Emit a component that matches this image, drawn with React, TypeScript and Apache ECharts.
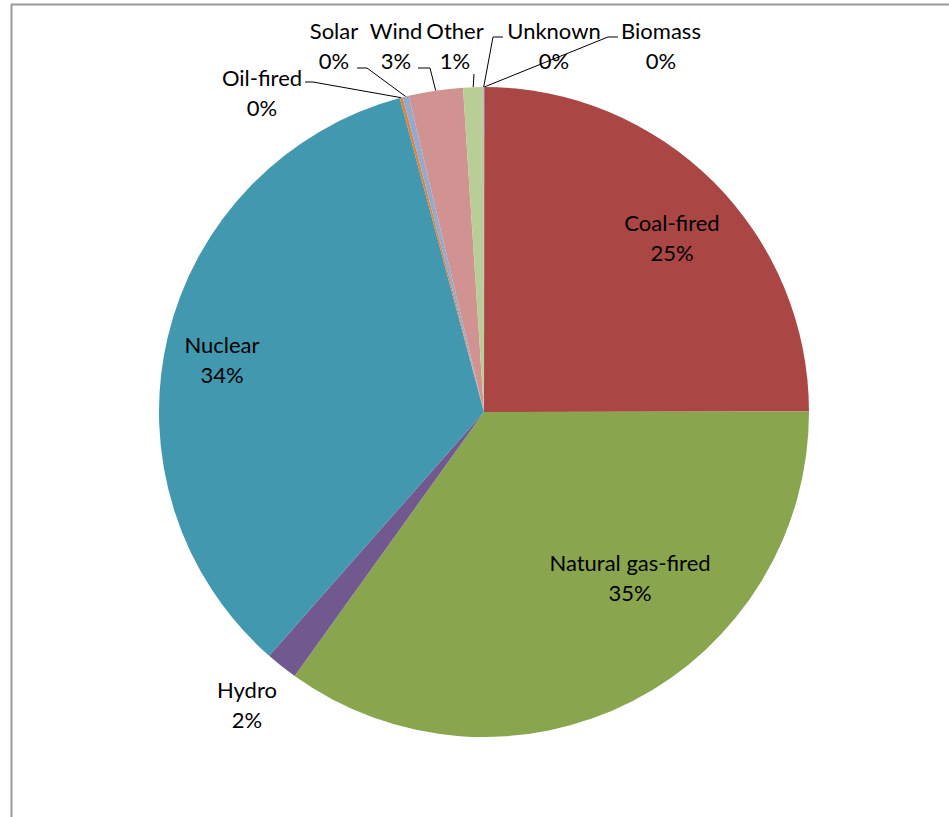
import React, { useEffect, useRef } from "react";
import * as echarts from "echarts";

// Data (clockwise from 12 o'clock)
const categories = [
  "Biomass",
  "Coal-fired",
  "Natural gas-fired",
  "Hydro",
  "Nuclear",
  "Oil-fired",
  "Solar",
  "Wind",
  "Other",
  "Unknown",
];
const shares = [0.02, 25.0, 35.0, 1.6, 34.4, 0.15, 0.3, 2.7, 1.0, 0.03];
const colors = [
  "#4572A7",
  "#AA4643",
  "#89A54E",
  "#71588F",
  "#4198AF",
  "#DB843D",
  "#93A9CF",
  "#D19392",
  "#B9CD96",
  "#A99BBD",
];

// Label layout (Excel-style manual label placement): centre of each label block
const labelCenters: Record<string, [number, number]> = {
  Biomass: [661, 45],
  "Coal-fired": [672, 237],
  "Natural gas-fired": [630, 577],
  Hydro: [247, 704],
  Nuclear: [222, 359],
  "Oil-fired": [262, 92],
  Solar: [334, 45],
  Wind: [396, 45],
  Other: [455, 45],
  Unknown: [554, 45],
};
// leader line: [labelEnd, elbow] (pie edge point comes from the library)
const leaderLines: Record<string, [number, number][]> = {
  "Oil-fired": [
    [305, 82],
    [313, 82],
  ],
  Solar: [
    [357, 68],
    [367, 68],
  ],
  Wind: [
    [418, 68],
    [430, 68],
  ],
  Other: [[474, 74]],
  Unknown: [
    [503, 37],
    [493, 37],
  ],
  Biomass: [
    [618, 37],
    [608, 37],
  ],
};

export default function App() {
  const ref = useRef<HTMLDivElement>(null);

  useEffect(() => {
    if (!ref.current) return;
    const chart = echarts.init(ref.current, undefined, { renderer: "svg" });
    const data = categories.map((name, i) => ({
      name,
      value: shares[i],
      itemStyle: { color: colors[i] },
      labelLine: { show: !!leaderLines[name] },
    }));
    chart.setOption({
      animation: false,
      backgroundColor: "#ffffff",
      graphic: [
        {
          type: "line",
          shape: { x1: 11, y1: 4.5, x2: 949, y2: 4.5 },
          style: { stroke: "#9a9a9a", lineWidth: 2 },
          silent: true,
        },
        {
          type: "line",
          shape: { x1: 11.5, y1: 4, x2: 11.5, y2: 817 },
          style: { stroke: "#9a9a9a", lineWidth: 2 },
          silent: true,
        },
      ],
      series: [
        {
          type: "pie",
          center: [484, 412],
          radius: 325,
          startAngle: 90,
          clockwise: true,
          avoidLabelOverlap: false,
          minShowLabelAngle: 0,
          itemStyle: { borderWidth: 0 },
          emphasis: { disabled: true },
          label: {
            show: true,
            position: "outside",
            color: "#000",
            fontFamily: "Lato, 'Open Sans', sans-serif",
            fontSize: 22,
            lineHeight: 30,
            align: "center",
            formatter: (p: any) => `${p.name}\n${Math.round(p.percent)}%`,
          },
          labelLine: {
            show: true,
            length: 10,
            length2: 10,
            smooth: false,
            lineStyle: { color: "#000", width: 1 },
          },
          labelLayout: (params: any) => {
            const name = categories[params.dataIndex];
            const c = labelCenters[name];
            const res: any = {
              x: c[0],
              y: c[1],
              align: "center",
              verticalAlign: "middle",
            };
            const ll = leaderLines[name];
            if (ll && params.labelLinePoints && params.labelLinePoints[0]) {
              const start = params.labelLinePoints[0];
              res.labelLinePoints = [[start[0], start[1]], ...[...ll].reverse()];
            }
            return res;
          },
          data,
        },
      ],
    });
    return () => chart.dispose();
  }, []);

  return (
    <div
      ref={ref}
      style={{
        position: "absolute",
        left: 0,
        top: 0,
        width: 949,
        height: 817,
        background: "#fff",
      }}
    />
  );
}
